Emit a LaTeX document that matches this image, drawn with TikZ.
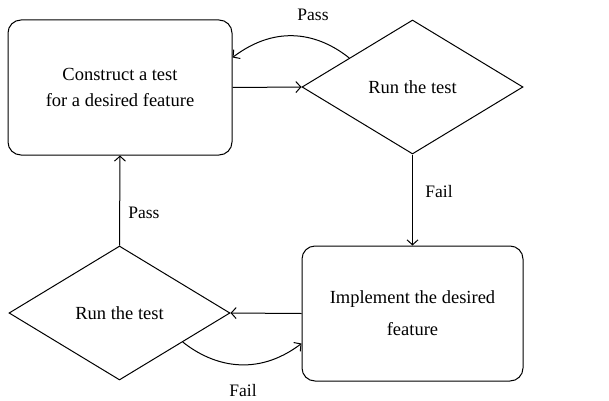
\documentclass[tikz,border=0pt]{standalone}
\usepackage{fontspec}
\setmainfont{Liberation Serif}
\usetikzlibrary{shapes.geometric,arrows.meta,calc}
\begin{document}
\begin{tikzpicture}[x=1pt,y=1pt,
  line width=1pt,
  arr/.style={-{Straight Barb[length=5pt,width=11pt,line width=1pt]}},
  procbox/.style={draw,rounded corners=13pt,minimum width=224pt,minimum height=135pt,inner sep=0pt,align=center,font=\fontsize{18.5}{26}\selectfont},
  decision/.style={draw,diamond,aspect=1.65,minimum width=221pt,minimum height=134pt,inner sep=0pt,font=\fontsize{18.5}{22}\selectfont},
  lbl/.style={font=\fontsize{17.5}{20}\selectfont,inner sep=0pt}]
\useasboundingbox (0,0) rectangle (609,400);
\node[procbox] (b1) at (120,312.5) {Construct a test\\for a desired feature};
\node[decision] (d1) at (412.5,313) {Run the test};
\node[procbox,minimum width=221pt,font=\fontsize{18.5}{32}\selectfont] (b2) at (412.5,86.5) {Implement the desired\\feature};
\node[decision] (d2) at (119.5,87) {Run the test};
\draw[arr] (b1.east) -- (d1.west);
\coordinate (p1) at ($(d1.west)!0.43!(d1.north)$);
\coordinate (p2) at ([yshift=30pt]b1.east);
\draw[arr] (p1) .. controls +(-30,24) and +(45,34) .. (p2);
\node[lbl] (pass1) at (313,385) {Pass};
\draw[arr] (d1.south) -- (b2.north);
\node[lbl] (fail1) at (439,208) {Fail};
\draw[arr] (b2.west) -- (d2.east);
\coordinate (q1) at ($(d2.east)!0.43!(d2.south)$);
\coordinate (q2) at ([yshift=-30pt]b2.west);
\draw[arr] (q1) .. controls +(30,-24) and +(-45,-34) .. (q2);
\node[lbl] (fail2) at (243,9) {Fail};
\draw[arr] (d2.north) -- (b1.south);
\node[lbl] (pass2) at (144,187) {Pass};
\end{tikzpicture}
\end{document}
